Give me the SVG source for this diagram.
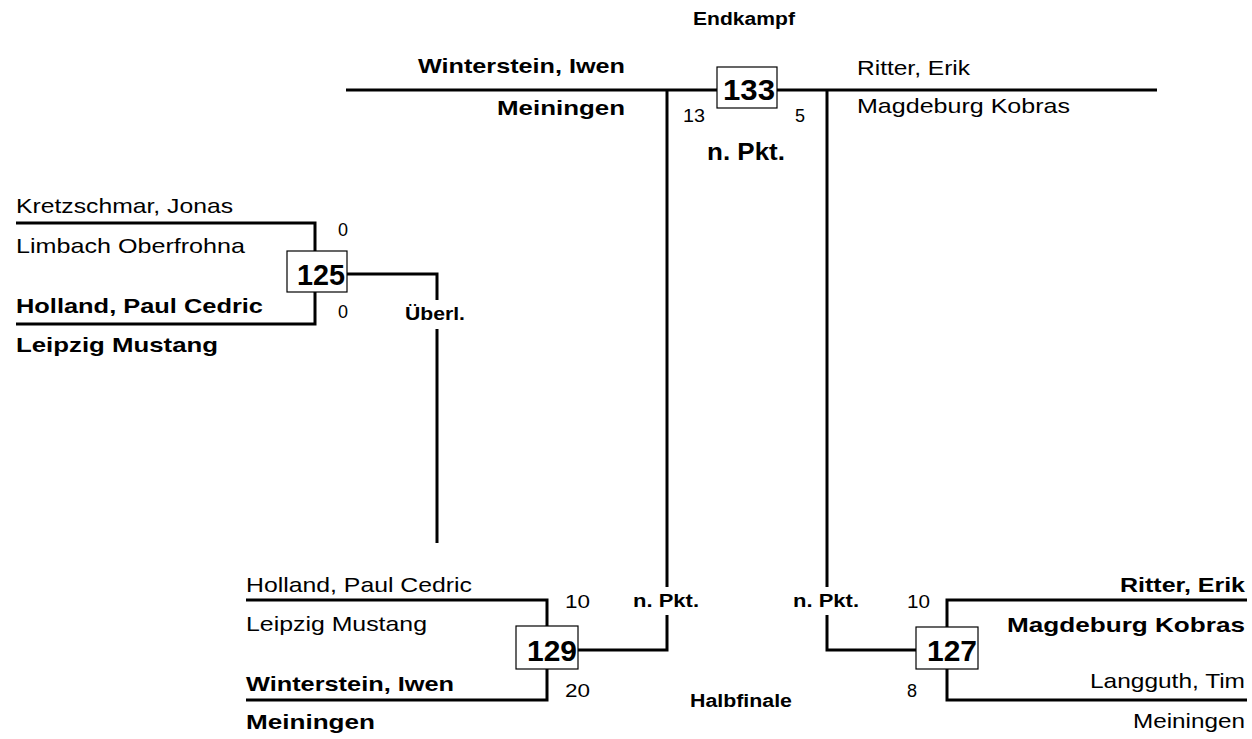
<svg xmlns="http://www.w3.org/2000/svg" width="1252" height="739" viewBox="0 0 1252 739">
<style>
text{font-family:"Liberation Sans",Arial,sans-serif;fill:#000}
.r{font-size:21px}
.b{font-size:21px;font-weight:bold}
.s{font-size:18px}
.h{font-size:18px;font-weight:bold}
.n{font-size:29px;font-weight:bold}
.ln{fill:none;stroke:#000;stroke-width:3}
.box{fill:#fff;stroke:#000;stroke-width:1.2}
</style>
<rect width="1252" height="739" fill="#fff"/>
<g id="connectors">
<path class="ln" d="M346 90 H1157"/>
<path class="ln" d="M667 90 V587 M667 615 V650 H578"/>
<path class="ln" d="M827 90 V587 M827 615 V650 H916"/>
<path class="ln" d="M16 223 H315 V251 M315 292 V324 H16"/>
<path class="ln" d="M347 274 H437 V300 M437 329 V543"/>
<path class="ln" d="M246 600 H547 V626 M547 669 V700 H246"/>
<path class="ln" d="M1247 600 H947 V627 M947 669 V700 H1247"/>
</g>
<g id="labels">
<text class="h" x="693" y="25" textLength="102" lengthAdjust="spacingAndGlyphs">Endkampf</text>
<text class="b" x="707" y="160" textLength="78" lengthAdjust="spacingAndGlyphs" style="font-size:23px">n. Pkt.</text>
<text class="h" x="405" y="320" textLength="60" lengthAdjust="spacingAndGlyphs">Überl.</text>
<text class="h" x="633" y="607" textLength="66" lengthAdjust="spacingAndGlyphs">n. Pkt.</text>
<text class="h" x="793" y="607" textLength="66" lengthAdjust="spacingAndGlyphs">n. Pkt.</text>
<text class="h" x="690" y="707" textLength="102" lengthAdjust="spacingAndGlyphs">Halbfinale</text>
</g>
<g id="match133">
<rect class="box" x="717" y="67" width="60" height="41"/>
<text class="n" x="723" y="100" textLength="52" lengthAdjust="spacingAndGlyphs">133</text>
<text class="s" x="683" y="122" textLength="22" lengthAdjust="spacingAndGlyphs">13</text>
<text class="s" x="795" y="122">5</text>
<text class="b" x="418" y="73" textLength="207" lengthAdjust="spacingAndGlyphs">Winterstein, Iwen</text>
<text class="b" x="497" y="115" textLength="128" lengthAdjust="spacingAndGlyphs">Meiningen</text>
<text class="r" x="857" y="75" textLength="113" lengthAdjust="spacingAndGlyphs">Ritter, Erik</text>
<text class="r" x="857" y="113" textLength="213" lengthAdjust="spacingAndGlyphs">Magdeburg Kobras</text>
</g>
<g id="match125">
<rect class="box" x="287" y="251" width="60" height="41"/>
<text class="n" x="297" y="285" textLength="48" lengthAdjust="spacingAndGlyphs">125</text>
<text class="s" x="338" y="236">0</text>
<text class="s" x="338" y="318">0</text>
<text class="r" x="16" y="213" textLength="217" lengthAdjust="spacingAndGlyphs">Kretzschmar, Jonas</text>
<text class="r" x="16" y="253" textLength="229" lengthAdjust="spacingAndGlyphs">Limbach Oberfrohna</text>
<text class="b" x="16" y="313" textLength="247" lengthAdjust="spacingAndGlyphs">Holland, Paul Cedric</text>
<text class="b" x="16" y="352" textLength="202" lengthAdjust="spacingAndGlyphs">Leipzig Mustang</text>
</g>
<g id="match129">
<rect class="box" x="516" y="626" width="62" height="43"/>
<text class="n" x="527" y="661" textLength="50" lengthAdjust="spacingAndGlyphs">129</text>
<text class="s" x="565" y="608" textLength="25" lengthAdjust="spacingAndGlyphs">10</text>
<text class="s" x="565" y="697" textLength="25" lengthAdjust="spacingAndGlyphs">20</text>
<text class="r" x="246" y="592" textLength="226" lengthAdjust="spacingAndGlyphs">Holland, Paul Cedric</text>
<text class="r" x="246" y="631" textLength="181" lengthAdjust="spacingAndGlyphs">Leipzig Mustang</text>
<text class="b" x="246" y="691" textLength="208" lengthAdjust="spacingAndGlyphs">Winterstein, Iwen</text>
<text class="b" x="246" y="729" textLength="129" lengthAdjust="spacingAndGlyphs">Meiningen</text>
</g>
<g id="match127">
<rect class="box" x="916" y="627" width="62" height="42"/>
<text class="n" x="927" y="661" textLength="50" lengthAdjust="spacingAndGlyphs">127</text>
<text class="s" x="907" y="608" textLength="23" lengthAdjust="spacingAndGlyphs">10</text>
<text class="s" x="907" y="697">8</text>
<text class="b" x="1120" y="592" textLength="125" lengthAdjust="spacingAndGlyphs">Ritter, Erik</text>
<text class="b" x="1007" y="632" textLength="238" lengthAdjust="spacingAndGlyphs">Magdeburg Kobras</text>
<text class="r" x="1090" y="688" textLength="155" lengthAdjust="spacingAndGlyphs">Langguth, Tim</text>
<text class="r" x="1133" y="728" textLength="112" lengthAdjust="spacingAndGlyphs">Meiningen</text>
</g>
</svg>
